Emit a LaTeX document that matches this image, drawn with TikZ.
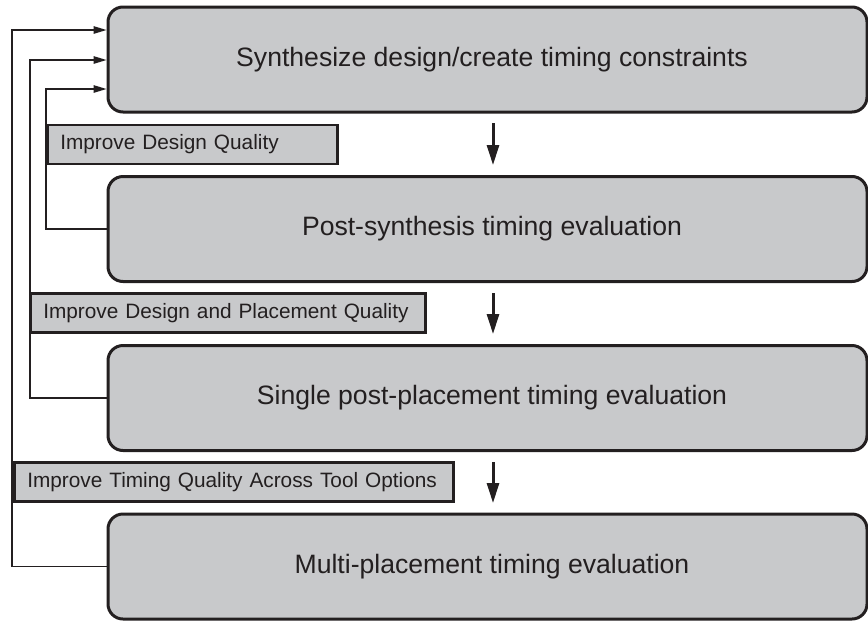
\documentclass[tikz,border=0pt]{standalone}
\usepackage{fontspec}
\setmainfont{Liberation Sans}
\usetikzlibrary{arrows.meta}
\definecolor{boxgray}{RGB}{200,201,203}
\definecolor{inkblack}{RGB}{35,31,32}
\begin{document}
\begin{tikzpicture}[x=1pt, y=-1pt, inkblack,
                    stage/.style={draw, fill=boxgray, rounded corners=15pt, line width=3pt,
                                  minimum width=759pt, minimum height=105pt,
                                  font=\fontsize{26.6}{30}\selectfont},
                    loopnote/.style={draw, fill=boxgray, line width=2.5pt, anchor=west,
                                     inner xsep=13pt, minimum height=39pt, align=left,
                                     font=\fontsize{20.8}{24}\selectfont}]

    \tikzstyle{flow}=[line width=3pt, -{Triangle[length=20pt,width=12pt]}]
    \tikzstyle{feedback}=[line width=1.3pt, -{Triangle[length=13pt,width=7.5pt]}]

    \useasboundingbox (0,0) rectangle (868,622);

    % stages
    \node[stage] (synth) at (487.5,59.5) {\hspace{9pt}Synthesize design/create timing constraints};
    \node[stage] (postsyn) at (487.5,229) {\hspace{9pt}Post-synthesis timing evaluation};
    \node[stage] (singlepl) at (487.5,398) {\hspace{9pt}Single post-placement timing evaluation};
    \node[stage] (multipl) at (487.5,566.5) {\hspace{9pt}Multi-placement timing evaluation};

    % loop corners
    \coordinate (r1) at (46,89);
    \coordinate (r2) at (30,60);
    \coordinate (r3) at (12,30);

    \draw[feedback] (postsyn.west) -| (r1) -- (r1 -| synth.west);
    \draw[feedback] (singlepl.west) -| (r2) -- (r2 -| synth.west);
    \draw[feedback] (multipl.west) -| (r3) -- (r3 -| synth.west);

    % loop labels
    \node[loopnote, text width=264pt] (q1) at (46,144.5) {Improve Design Quality};
    \node[loopnote, text width=369pt] (q2) at (29,313) {Improve Design and Placement Quality};
    \node[loopnote, text width=413pt] (q3) at (13,482) {Improve Timing Quality Across Tool Options};

    % forward arrows
    \coordinate (d1s) at (493,123); \coordinate (d1e) at (493,165);
    \coordinate (d2s) at (493,293); \coordinate (d2e) at (493,334);
    \coordinate (d3s) at (493,462); \coordinate (d3e) at (493,503);
    \draw[flow] (d1s) -- (d1e);
    \draw[flow] (d2s) -- (d2e);
    \draw[flow] (d3s) -- (d3e);
\end{tikzpicture}
\end{document}
